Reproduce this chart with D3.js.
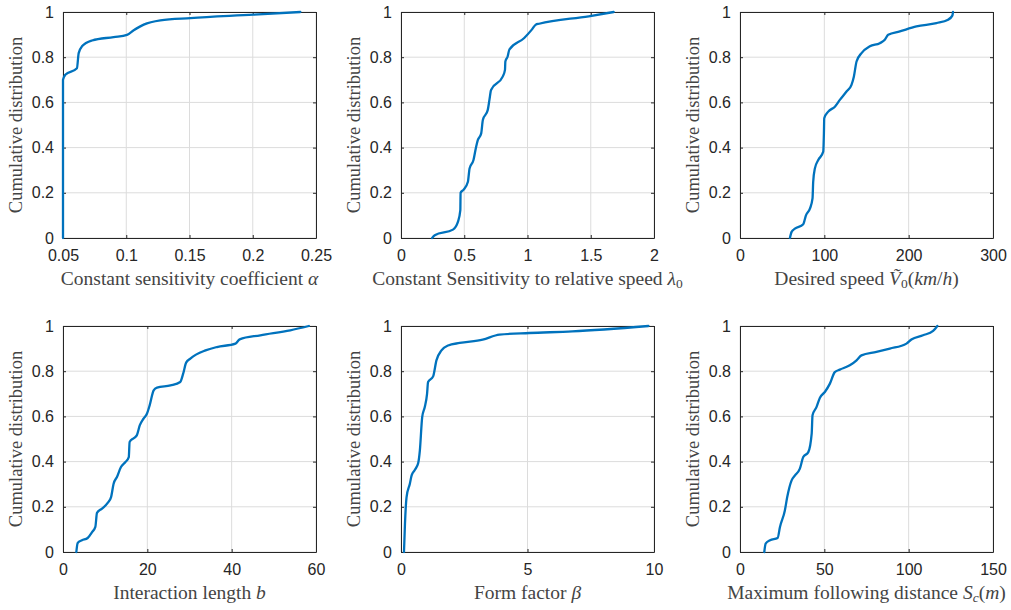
<!DOCTYPE html>
<html><head><meta charset="utf-8">
<script src="https://cdn.jsdelivr.net/npm/d3@7"></script>
<style>
body{margin:0;background:#fff;}
svg{display:block;}
.tick text{font-family:"Liberation Sans",Arial,sans-serif;}
.ttl{font-family:"Liberation Serif","Times New Roman","DejaVu Serif",serif;}
</style></head>
<body><svg id="c" width="1011" height="610"></svg>
<script>
const yTicks = [0, 0.2, 0.4, 0.6, 0.8, 1];
const yTickLabels = ["0", "0.2", "0.4", "0.6", "0.8", "1"];

const alphaX = [0.05,0.05,0.0518,0.061,0.0624,0.065,0.073,0.09,0.1006,0.1059,0.1138,0.127,0.1507,0.2007,0.2376];
const alphaY = [0,0.70,0.722,0.751,0.818,0.848,0.874,0.889,0.899,0.919,0.944,0.963,0.973,0.988,1.0];
const alphaTicks = [0.05,0.1,0.15,0.2,0.25];
const alphaTickLabels = ["0.05","0.1","0.15","0.2","0.25"];

const lambdaX = [0.246,0.267,0.411,0.45,0.469,0.471,0.495,0.529,0.542,0.573,0.594,0.607,0.634,0.647,0.686,0.699,0.712,0.804,0.822,0.825,0.843,0.856,0.974,1.034,1.065,1.092,1.484,1.681];
const lambdaY = [0,0.012,0.037,0.071,0.123,0.2,0.214,0.249,0.308,0.345,0.404,0.433,0.463,0.522,0.567,0.611,0.655,0.714,0.744,0.781,0.803,0.833,0.885,0.922,0.944,0.948,0.981,1.0];
const lambdaTicks = [0,0.5,1,1.5,2];
const lambdaTickLabels = ["0","0.5","1","1.5","2"];

const speedX = [59.2,61.2,65.1,75,78.2,82.9,86,86.8,88.8,92.8,98.7,99.5,99.9,104.6,112.5,118.4,126.3,132.2,135,138.2,144.1,154,165.8,171.7,175.7,189.5,209.2,232.9,246.7,251.8,252.6];
const speedY = [0,0.027,0.041,0.061,0.1,0.13,0.175,0.249,0.308,0.345,0.382,0.463,0.53,0.559,0.581,0.611,0.648,0.678,0.714,0.781,0.818,0.848,0.862,0.877,0.899,0.914,0.936,0.951,0.966,0.984,1.0];
const speedTicks = [0,100,200,300];
const speedTickLabels = ["0","100","200","300"];

const lengthX = [3.16,3.48,4.5,5.85,6.9,7.67,8.06,9.25,10.6,11.4,12.0,12.8,13.75,14.8,15.6,15.8,16.8,17.5,18.2,19.1,19.9,20.55,21.5,22.3,25.5,27.8,28.5,29.2,30.2,33.8,36.5,40.9,41.9,46.8,53.9,58.3];
const lengthY = [0,0.04,0.052,0.062,0.088,0.111,0.173,0.192,0.217,0.243,0.302,0.332,0.376,0.398,0.42,0.487,0.504,0.516,0.56,0.59,0.612,0.649,0.715,0.727,0.737,0.752,0.789,0.838,0.856,0.892,0.907,0.922,0.941,0.959,0.981,1.0];
const lengthTicks = [0,20,40,60];
const lengthTickLabels = ["0","20","40","60"];

const formX = [0.118,0.157,0.22,0.35,0.42,0.55,0.68,0.746,0.838,0.94,1.03,1.07,1.27,1.4,1.6,1.86,2.32,3.23,3.89,5.07,6.77,9.78];
const formY = [0,0.125,0.243,0.302,0.339,0.364,0.394,0.45,0.597,0.642,0.7,0.752,0.777,0.848,0.892,0.914,0.925,0.94,0.962,0.969,0.976,1.0];
const formTicks = [0,5,10];
const formTickLabels = ["0","5","10"];

const distX = [14.4,15.2,17.8,22.3,23.7,26.6,28,30.6,32.6,35.5,37.5,40.5,42.5,43.0,45.4,47.4,50.3,53.3,56.2,59.2,65.1,69.1,72,80.9,88.8,98.7,101.6,108.5,114.5,117];
const distY = [0,0.037,0.052,0.062,0.111,0.184,0.243,0.317,0.339,0.369,0.42,0.442,0.524,0.605,0.642,0.683,0.708,0.745,0.796,0.807,0.826,0.848,0.87,0.885,0.9,0.922,0.94,0.959,0.978,1.0];
const distTicks = [0,50,100,150];
const distTickLabels = ["0","50","100","150"];

const yTitle = "Cumulative distribution";

const panels = [
  {xs: alphaX, ys: alphaY, dom: [0.05,0.25], ticks: alphaTicks, labels: alphaTickLabels,
   title: [["Constant sensitivity coefficient ",""],["α","i"]]},
  {xs: lambdaX, ys: lambdaY, dom: [0,2], ticks: lambdaTicks, labels: lambdaTickLabels,
   title: [["Constant Sensitivity to relative speed ",""],["λ","i"],["0","sub"]]},
  {xs: speedX, ys: speedY, dom: [0,300], ticks: speedTicks, labels: speedTickLabels,
   title: [["Desired speed ",""],["Ṽ","i"],["0","sub"],["(",""],["km","i"],["/",""],["h","i"],[")",""]]},
  {xs: lengthX, ys: lengthY, dom: [0,60], ticks: lengthTicks, labels: lengthTickLabels,
   title: [["Interaction length ",""],["b","i"]]},
  {xs: formX, ys: formY, dom: [0,10], ticks: formTicks, labels: formTickLabels,
   title: [["Form factor ",""],["β","i"]]},
  {xs: distX, ys: distY, dom: [0,150], ticks: distTicks, labels: distTickLabels,
   title: [["Maximum following distance ",""],["S","i"],["c","isub"],["(",""],["m","i"],[")",""]]}
];

const svg = d3.select("#c");
const colX = [63, 401, 740], rowY = [12, 326];
const W = 253, H = 226;
const axisColor = "#262626";

panels.forEach((p, i) => {
  const x0 = colX[i % 3], y0 = rowY[Math.floor(i / 3)];
  const g = svg.append("g").attr("transform", `translate(${x0},${y0})`);
  const x = d3.scaleLinear().domain(p.dom).range([0, W]);
  const y = d3.scaleLinear().domain([0, 1]).range([H, 0]);

  g.append("g").selectAll("line").data(p.ticks).join("line")
    .attr("x1", d => x(d)).attr("x2", d => x(d)).attr("y1", 0).attr("y2", H)
    .attr("stroke", "#dcdcdc").attr("stroke-width", 1);
  g.append("g").selectAll("line").data(yTicks).join("line")
    .attr("x1", 0).attr("x2", W).attr("y1", d => y(d)).attr("y2", d => y(d))
    .attr("stroke", "#dcdcdc").attr("stroke-width", 1);

  const xa = d3.axisBottom(x).tickValues(p.ticks).tickFormat((d, k) => p.labels[k]).tickSizeInner(-3).tickSizeOuter(0).tickPadding(12);
  const ya = d3.axisLeft(y).tickValues(yTicks).tickFormat((d, k) => yTickLabels[k]).tickSizeInner(-3).tickSizeOuter(0).tickPadding(9);
  const xt = d3.axisTop(x).tickValues(p.ticks).tickFormat("").tickSizeInner(-3).tickSizeOuter(0);
  const yr = d3.axisRight(y).tickValues(yTicks).tickFormat("").tickSizeInner(-3).tickSizeOuter(0);
  [g.append("g").attr("transform", `translate(0,${H})`).call(xa),
   g.append("g").call(ya),
   g.append("g").call(xt),
   g.append("g").attr("transform", `translate(${W},0)`).call(yr)].forEach(a => {
    a.selectAll("path,line").attr("stroke", axisColor);
    a.selectAll("text").attr("fill", axisColor).style("font-size", "16px");
  });

  const pts = p.xs.map((v, k) => [v, p.ys[k]]);
  g.append("path").datum(pts)
    .attr("fill", "none").attr("stroke", "#0072BD").attr("stroke-width", 2.3)
    .attr("stroke-linejoin", "round").attr("stroke-linecap", "round")
    .attr("d", d3.line().x(d => x(d[0])).y(d => y(d[1])).curve(d3.curveMonotoneX));

  const t = g.append("text").attr("class", "ttl").attr("x", W / 2).attr("y", H + 47).attr("text-anchor", "middle")
    .style("font-size", "19.5px").attr("fill", "#444");
  let prevSub = false;
  p.title.forEach(([s, st]) => {
    const ts = t.append("tspan").text(s);
    if (st.includes("i")) ts.attr("font-style", "italic");
    const isSub = st.includes("sub");
    if (isSub) ts.style("font-size", "13.5px").attr("dy", 3);
    else if (prevSub) ts.attr("dy", -3);
    prevSub = isSub;
  });

  g.append("text").attr("class", "ttl").attr("transform", `translate(-41,${H / 2}) rotate(-90)`)
    .attr("text-anchor", "middle").style("font-size", "18.5px")
    .attr("fill", "#444").text(yTitle);
});
</script></body></html>
